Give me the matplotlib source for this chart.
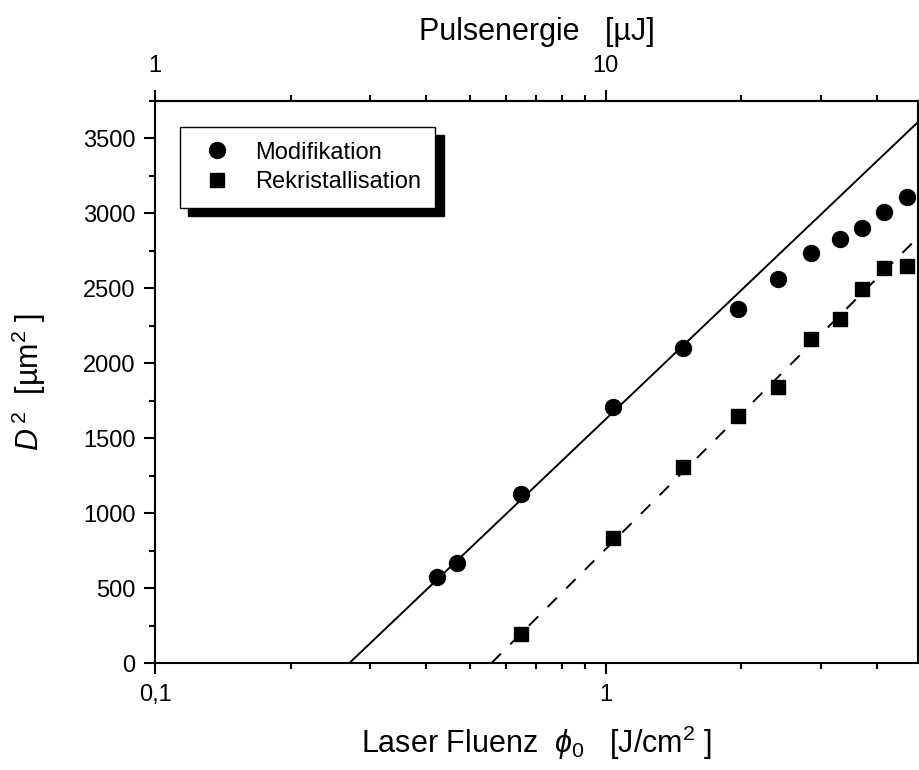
import numpy as np
import matplotlib
matplotlib.use("Agg")
import matplotlib.pyplot as plt
from matplotlib.ticker import FuncFormatter, NullFormatter, FixedLocator, LogLocator, MultipleLocator

# Messwerte: Laserfluenz [J/cm^2] und quadrierter Kraterdurchmesser [um^2]
fluenz_mod = [0.423, 0.4685, 0.649, 1.036, 1.487, 1.969, 2.41, 2.855, 3.31, 3.71, 4.15, 4.65]
d2_mod = [572, 665, 1127, 1705, 2099, 2361, 2560, 2735, 2831, 2898, 3005, 3105]

fluenz_rek = [0.649, 1.036, 1.487, 1.969, 2.41, 2.855, 3.31, 3.71, 4.15, 4.65]
d2_rek = [191, 835, 1309, 1647, 1838, 2160, 2291, 2491, 2631, 2649]

# Fit D^2 = a * ln(phi / phi_th)
fit_mod = (1242.0, 0.270)
fit_rek = (1303.0, 0.558)

X_MAX = 4.93

plt.rcParams["font.family"] = ["Liberation Sans", "DejaVu Sans"]
plt.rcParams["mathtext.fontset"] = "custom"
plt.rcParams["mathtext.rm"] = "Liberation Sans"
plt.rcParams["mathtext.it"] = "Liberation Sans:italic"
plt.rcParams["mathtext.fallback"] = "stix"
plt.rcParams["lines.scale_dashes"] = False

fig = plt.figure(figsize=(9.19, 7.7), dpi=100)
ax = fig.add_axes([155 / 919, 107 / 770, 763 / 919, 562.3 / 770])

for (a, phi_th), ls in ((fit_mod, "-"), (fit_rek, "--")):
    xf = np.geomspace(phi_th, X_MAX, 200)
    line, = ax.plot(xf, a * np.log(xf / phi_th), color="black", lw=1.4, ls=ls)
    if ls == "--":
        line.set_dashes((9.5, 9.5))

ax.plot(fluenz_mod, d2_mod, "o", color="black", ms=11.5, label="Modifikation")
ax.plot(fluenz_rek, d2_rek, "s", color="black", ms=10, label="Rekristallisation")

ax.set_xscale("log")
ax.set_xlim(0.1, X_MAX)
ax.set_ylim(0, 3750)
ax.yaxis.set_major_locator(MultipleLocator(500))
ax.yaxis.set_minor_locator(MultipleLocator(250))
ax.xaxis.set_major_locator(FixedLocator([0.1, 1]))
ax.xaxis.set_minor_locator(LogLocator(base=10, subs=np.arange(2, 10)))
ax.xaxis.set_major_formatter(FuncFormatter(lambda v, p: f"{v:g}".replace(".", ",")))
ax.xaxis.set_minor_formatter(NullFormatter())

for s in ax.spines.values():
    s.set_linewidth(1.5)
ax.tick_params(which="both", direction="out", width=1.5, labelsize=17,
               top=False, right=False)
ax.tick_params(which="major", length=8)
ax.tick_params(which="minor", length=4.5)
ax.tick_params(axis="x", pad=7)
ax.tick_params(axis="y", pad=6)

# obere Achse: Pulsenergie = 10 * Fluenz
sec = ax.secondary_xaxis("top", functions=(lambda x: 10 * x, lambda e: e / 10))
sec.xaxis.set_major_locator(FixedLocator([1, 10]))
sec.xaxis.set_minor_locator(LogLocator(base=10, subs=np.arange(2, 10)))
sec.xaxis.set_major_formatter(FuncFormatter(lambda v, p: f"{v:g}"))
sec.xaxis.set_minor_formatter(NullFormatter())
sec.spines["top"].set_linewidth(1.5)
sec.tick_params(which="both", direction="out", width=1.5, labelsize=17, pad=9)
sec.tick_params(which="major", length=8)
sec.tick_params(which="minor", length=4.5)
sec.set_xlabel("Pulsenergie   [µJ]", fontsize=22, labelpad=11)

ax.set_xlabel(r"Laser Fluenz  $\phi_{\mathit{0}}$   [J/cm$^{2}$ ]", fontsize=22)
ax.xaxis.set_label_coords(0.5, -0.108)
ax.xaxis.label.set_va("top")
ax.set_ylabel(r"$D^{\,2}$  [µm$^{2}$ ]", fontsize=22)
ax.yaxis.set_label_coords(-0.14, 0.5)

leg = ax.legend(loc="upper left", bbox_to_anchor=(180 / 919, 1 - 127 / 770),
                bbox_transform=fig.transFigure, borderaxespad=0, fontsize=17,
                frameon=True, fancybox=False, edgecolor="black", handlelength=1.9,
                handletextpad=0.65, labelspacing=0.32, borderpad=0.62,
                shadow={"color": "black", "alpha": 1, "ox": 6, "oy": -6})
leg.get_frame().set_linewidth(1.0)

fig.savefig("out.png", dpi=100)
